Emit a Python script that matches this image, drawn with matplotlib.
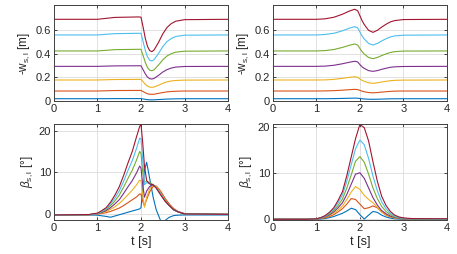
import numpy as np
import matplotlib
matplotlib.use("Agg")
from matplotlib import pyplot as plt

# MATLAB default line colours: blue, orange, yellow, purple, green, cyan, red
colors = ['#0072BD', '#D95319', '#EDB120', '#7E2F8E', '#77AC30', '#4DBEEE', '#A2142F']

########################################################
# top left: -w_s,l [m]
t_wl = [0, 1.0, 1.4, 1.95, 2.0, 2.05, 2.1, 2.15, 2.2, 2.25, 2.3, 2.4, 2.5, 2.6, 2.7, 2.8, 3.0, 4.0]
wl_blue = [.02, .02, .021, .021, .021, .018, .015, .012, .011, .010, .011, .013, .015, .017, .018, .019, .02, .02]
wl_orange = [.085, .085, .089, .09, .09, .08, .07, .062, .058, .057, .058, .065, .072, .078, .081, .083, .085, .085]
wl_yellow = [.178, .178, .182, .183, .183, .163, .141, .126, .118, .116, .119, .133, .150, .163, .170, .174, .177, .178]
wl_purple = [.293, .293, .297, .298, .298, .264, .229, .203, .189, .186, .191, .216, .245, .266, .279, .287, .292, .293]
wl_green = [.423, .423, .434, .437, .437, .383, .325, .283, .261, .256, .264, .303, .348, .381, .401, .413, .421, .423]
wl_cyan = [.558, .558, .569, .572, .572, .50, .427, .373, .345, .338, .349, .40, .459, .503, .529, .545, .556, .558]
wl_red = [.69, .69, .706, .71, .708, .622, .528, .461, .426, .417, .431, .493, .567, .622, .655, .674, .687, .69]

# top right: -w_s,l [m]
t_wr = [0, 1.0, 1.2, 1.4, 1.6, 1.75, 1.88, 1.95, 2.0, 2.05, 2.1, 2.2, 2.3, 2.4, 2.5, 2.6, 2.7, 2.8, 3.0, 4.0]
wr_blue = [.02, .02, .02, .021, .0225, .024, .025, .0244, .0218, .0195, .018, .0158, .015, .0158, .017, .0181, .019, .0195, .0199, .02]
wr_orange = [.085, .085, .086, .088, .092, .096, .099, .097, .090, .084, .079, .072, .070, .072, .076, .079, .082, .084, .085, .085]
wr_yellow = [.178, .178, .179, .183, .192, .200, .205, .201, .187, .175, .167, .154, .150, .154, .161, .167, .172, .175, .177, .178]
wr_purple = [.293, .293, .295, .302, .315, .327, .336, .330, .308, .289, .276, .257, .251, .257, .268, .277, .285, .289, .292, .293]
wr_green = [.423, .423, .426, .435, .453, .470, .482, .473, .444, .417, .397, .368, .358, .368, .384, .398, .410, .417, .422, .423]
wr_cyan = [.558, .558, .562, .572, .593, .614, .628, .618, .583, .550, .524, .486, .473, .486, .507, .526, .541, .550, .556, .558]
wr_red = [.69, .69, .694, .707, .733, .758, .775, .762, .72, .679, .646, .597, .58, .597, .624, .648, .668, .679, .688, .69]

# bottom left: beta_s,l [deg]
t_bl = [0, 0.8, 1.0, 1.1, 1.2, 1.3, 1.4, 1.5, 1.6, 1.7, 1.8, 1.9, 1.97, 2.0, 2.04, 2.08, 2.13, 2.2, 2.28, 2.35,
        2.45, 2.55, 2.65, 2.75, 2.85, 3.0, 4.0]
bl_blue = [-.25, -.25, -.3, -.45, -.6, -.8, -.5, -.2, .1, .4, .7, 1.0, 1.2, 1.5, 6, 10.5, 12.4, 8.5, 4, 1,
           -1.6, -1.6, -.8, -.4, -.3, -.25, -.25]
bl_orange = [-.25, -.2, -.05, .12, .3, .6, 1.0, 1.4, 2.0, 2.7, 3.4, 4.1, 4.8, 4.7, 3.0, 2.0, 3.5, 5.3, 6.6, 6.7,
             5.5, 3.8, 2.4, 1.3, .6, .1, -.1]
bl_yellow = [-.25, -.2, 0, .25, .6, 1.1, 1.7, 2.5, 3.5, 4.6, 5.7, 7.0, 8.1, 8.0, 4.5, 1.6, 4.0, 6.0, 7.0, 6.6,
             5.0, 3.3, 2.1, 1.1, .5, 0, -.1]
bl_purple = [-.25, -.2, .05, .35, .8, 1.5, 2.4, 3.4, 4.9, 6.5, 8.0, 9.9, 11.5, 11.0, 7.0, 4.0, 5.5, 6.6, 7.0, 6.3,
             4.8, 3.2, 2.0, 1.0, .5, 0, -.1]
bl_green = [-.25, -.2, .1, .5, 1.05, 2.0, 3.1, 4.5, 6.4, 8.5, 10.5, 13.0, 15.0, 14.5, 10, 7.7, 7.7, 7.6, 7.0, 6.3,
            4.8, 3.2, 2.0, 1.0, .5, 0, -.1]
bl_cyan = [-.25, -.2, .1, .6, 1.3, 2.4, 3.8, 5.5, 7.8, 10.4, 12.8, 15.8, 18.2, 18.0, 13, 7, 7.5, 7.3, 7.0, 6.3,
           4.8, 3.2, 2.0, 1.0, .5, 0, -.1]
bl_red = [-.25, -.15, .2, .8, 1.5, 2.8, 4.5, 6.5, 9.2, 12.2, 15.0, 18.6, 21.0, 21.6, 17, 11.5, 8.0, 7.2, 7.0, 6.2,
          4.6, 3.1, 2.0, 1.0, .5, 0, -.1]

# bottom right: beta_s,l [deg]
t_br = [0, 0.8, 1.0, 1.1, 1.2, 1.3, 1.4, 1.5, 1.6, 1.7, 1.8, 1.9, 2.0, 2.1, 2.2, 2.3, 2.4, 2.5, 2.6, 2.7, 2.8,
        2.9, 3.0, 3.2, 4.0]
br_blue = [0, 0, 0, .05, .15, .35, .6, .95, 1.3, 1.8, 2.4, 2.1, 1.0, .05, .9, 1.7, 1.5, .9, .5, .25, .1,
           .05, 0, 0, 0]
br_orange = [0, 0, .05, .15, .3, .6, 1.0, 1.6, 2.3, 3.3, 4.5, 4.3, 3.3, 2.3, 2.5, 2.9, 2.5, 1.6, .9, .5, .3,
             .17, .1, 0, 0]
br_yellow = [0, 0, .05, .2, .4, .8, 1.3, 2.0, 2.9, 4.3, 5.9, 7.1, 6.5, 5.2, 4.3, 3.6, 2.6, 1.6, 1.0, .6, .3,
             .17, .1, 0, 0]
br_purple = [0, 0, .1, .25, .5, .95, 1.6, 2.5, 3.6, 5.4, 7.6, 9.8, 10.1, 8.9, 6.8, 4.7, 3.1, 1.9, 1.2, .7, .4,
             .22, .1, 0, 0]
br_green = [0, 0, .1, .3, .6, 1.15, 1.9, 3.0, 4.4, 6.8, 9.6, 12.6, 13.6, 12.4, 9.8, 6.8, 4.5, 2.8, 1.7, 1.0, .5,
            .3, .15, .05, 0]
br_cyan = [0, 0, .1, .3, .7, 1.35, 2.2, 3.6, 5.3, 8.3, 11.8, 15.3, 17.2, 16.2, 13.2, 9.4, 6.2, 3.8, 2.3, 1.3, .7,
           .4, .2, .1, .05]
br_red = [0, 0, .1, .35, .8, 1.5, 2.5, 4.1, 6, 9.5, 13.5, 17.5, 20.6, 19.9, 17, 12.5, 8.3, 5, 3, 1.7, .9,
          .5, .3, .15, .1]

x_ticks = [0, 1, 2, 3, 4]
w_ticks = [0, 0.2, 0.4, 0.6]
b_ticks = [0, 10, 20]
##########################################################

plt.rcParams['font.family'] = ['Liberation Sans', 'DejaVu Sans']
plt.rcParams['mathtext.fontset'] = 'custom'
plt.rcParams['mathtext.rm'] = 'Liberation Sans'
plt.rcParams['mathtext.it'] = 'Liberation Sans:italic'
txt = '#262626'


def style(ax):
    ax.grid(True, color='#dcdcdc', linewidth=0.6)
    ax.set_axisbelow(True)
    ax.tick_params(direction='in', length=2.5, width=0.6, top=True, right=True,
                   labelsize=8, colors=txt, pad=2)
    for s in ax.spines.values():
        s.set_color('#404040')
        s.set_linewidth(0.7)
    ax.set_xlim(0, 4)
    ax.set_xticks(x_ticks)


fig = plt.figure(figsize=(4.57, 2.54), dpi=100)
ax_tl = fig.add_axes([0.118, 0.602, 0.381, 0.378])
ax_tr = fig.add_axes([0.597, 0.602, 0.381, 0.378])
ax_bl = fig.add_axes([0.118, 0.134, 0.381, 0.378])
ax_br = fig.add_axes([0.597, 0.134, 0.381, 0.378])

tl = [wl_blue, wl_orange, wl_yellow, wl_purple, wl_green, wl_cyan, wl_red]
tr = [wr_blue, wr_orange, wr_yellow, wr_purple, wr_green, wr_cyan, wr_red]
bl = [bl_blue, bl_orange, bl_yellow, bl_purple, bl_green, bl_cyan, bl_red]
br = [br_blue, br_orange, br_yellow, br_purple, br_green, br_cyan, br_red]

for ax, t, series in [(ax_tl, t_wl, tl), (ax_tr, t_wr, tr), (ax_bl, t_bl, bl), (ax_br, t_br, br)]:
    style(ax)
    for c, y in zip(colors, series):
        ax.plot(t, y, color=c, linewidth=0.8)

for ax in (ax_tl, ax_tr):
    ax.set_ylim(0, 0.81)
    ax.set_yticks(w_ticks)
    ax.set_yticklabels(['0', '0.2', '0.4', '0.6'])
    ax.set_ylabel(r'-w$_{\mathrm{s,l}}$ [m]', fontsize=8.5, color=txt, labelpad=3)

ax_bl.set_ylim(-1.45, 21.6)
ax_br.set_ylim(-0.15, 20.7)
for ax in (ax_bl, ax_br):
    ax.set_yticks(b_ticks)
    ax.set_ylabel(r'$\beta_{\mathrm{s,l}}$ [°]', fontsize=8.5, color=txt, labelpad=3)
    ax.set_xlabel('t [s]', fontsize=9, color=txt, labelpad=2.5)

fig.savefig('out.png', dpi=100)
